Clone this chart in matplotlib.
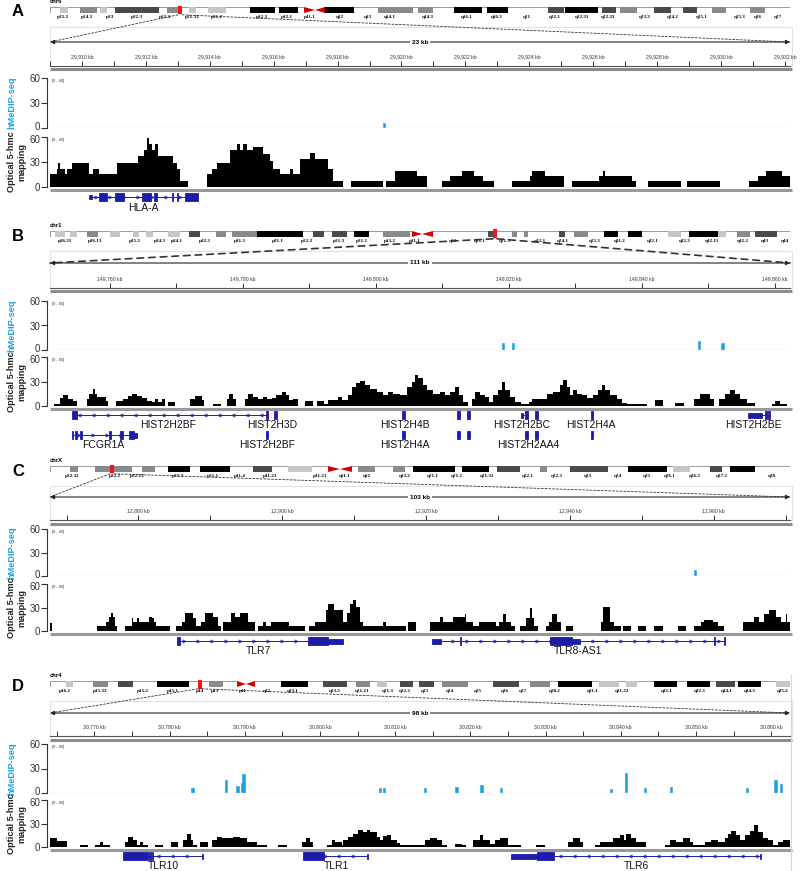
import numpy as np
import matplotlib
matplotlib.use("Agg")
import matplotlib.pyplot as plt
from matplotlib.patches import Rectangle, Polygon, ConnectionPatch
from matplotlib.transforms import ScaledTranslation

plt.rcParams['font.family'] = ['Liberation Sans', 'DejaVu Sans']

# ---------------- data ----------------
# ideogram bands: (start, end, stain), positions along the ideogram (0-740)
CHR6_BANDS = [(10, 18, 'gpos25'), (30, 47, 'gpos50'), (50, 57, 'gpos25'), (65, 109, 'gpos75'),
              (117, 128, 'gpos50'), (139, 146, 'gpos25'), (158, 176, 'gpos25'), (200, 225, 'gpos100'),
              (229, 248, 'gpos100'), (275, 304, 'gpos100'), (328, 363, 'gpos50'), (368, 383, 'gpos50'),
              (404, 432, 'gpos100'), (437, 458, 'gpos100'), (498, 514, 'gpos75'), (515, 548, 'gpos100'),
              (552, 566, 'gpos75'), (570, 587, 'gpos50'), (604, 621, 'gpos75'), (633, 647, 'gpos75'),
              (662, 676, 'gpos50'), (700, 715, 'gpos50')]
CHR1_BANDS = [(5, 15, 'gpos25'), (20, 27, 'gpos25'), (37, 48, 'gpos50'), (60, 70, 'gpos25'),
              (83, 89, 'gpos25'), (96, 103, 'gpos25'), (118, 130, 'gpos25'), (139, 150, 'gpos75'),
              (166, 176, 'gpos50'), (182, 207, 'gpos50'), (207, 253, 'gpos100'), (263, 274, 'gpos75'),
              (282, 297, 'gpos75'), (304, 319, 'gpos100'), (333, 360, 'gpos50'), (438, 447, 'gpos75'),
              (462, 467, 'gpos50'), (474, 478, 'gpos50'), (509, 515, 'gpos75'), (524, 538, 'gpos50'),
              (554, 568, 'gpos100'), (578, 592, 'gpos100'), (618, 631, 'gpos25'), (639, 668, 'gpos100'),
              (668, 676, 'gpos25'), (687, 700, 'gpos50'), (705, 727, 'gpos75')]
CHRX_BANDS = [(20, 28, 'gpos50'), (45, 82, 'gpos50'), (92, 105, 'gpos50'), (118, 140, 'gpos100'),
              (150, 180, 'gpos100'), (203, 222, 'gpos75'), (238, 262, 'gpos25'), (308, 325, 'gpos50'),
              (343, 355, 'gpos50'), (363, 405, 'gpos100'), (412, 439, 'gpos100'), (447, 470, 'gpos75'),
              (490, 497, 'gpos50'), (520, 558, 'gpos75'), (578, 617, 'gpos100'), (623, 640, 'gpos25'),
              (660, 672, 'gpos75'), (680, 705, 'gpos100')]
CHR4_BANDS = [(16, 23, 'gpos25'), (43, 58, 'gpos50'), (68, 83, 'gpos75'), (107, 139, 'gpos100'),
              (159, 173, 'gpos50'), (231, 258, 'gpos100'), (273, 297, 'gpos75'), (306, 320, 'gpos50'),
              (327, 337, 'gpos25'), (350, 363, 'gpos75'), (369, 384, 'gpos75'), (392, 418, 'gpos50'),
              (443, 469, 'gpos75'), (480, 500, 'gpos50'), (508, 542, 'gpos100'), (549, 569, 'gpos25'),
              (576, 587, 'gpos25'), (604, 627, 'gpos100'), (637, 660, 'gpos100'), (666, 685, 'gpos75'),
              (688, 711, 'gpos100'), (726, 740, 'gpos25')]
# centromere (p edge, centre, q edge) and red locus marker
CHR6_ACEN, CHR1_ACEN, CHRX_ACEN, CHR4_ACEN = (254, 265, 275), (362, 372, 383), (278, 290, 302), (187, 196, 205)
MARKERS = [130, 445, 62, 150]

CHR6_LABELS = [('p25.3', 13), ('p24.3', 37), ('p23', 60), ('p22.3', 87), ('p22.2', 115), ('p21.33', 142),
               ('p21.2', 167), ('p12.3', 212), ('p12.1', 237), ('p11.1', 260), ('q12', 290), ('q13', 318),
               ('q14.1', 340), ('q14.3', 378), ('q16.1', 417), ('q16.3', 447), ('q21', 477), ('q22.1', 505),
               ('q22.31', 532), ('q22.33', 558), ('q23.3', 595), ('q24.2', 623), ('q25.1', 652),
               ('q25.3', 690), ('q26', 708), ('q27', 728)]
CHR1_LABELS = [('p36.31', 15), ('p36.13', 45), ('p35.3', 85), ('p34.3', 110), ('p34.1', 127), ('p32.3', 155),
               ('p31.3', 190), ('p31.1', 228), ('p22.3', 257), ('p21.3', 289), ('p21.1', 312), ('p13.2', 340),
               ('p11.1', 365), ('q12', 403), ('q21.1', 430), ('q21.3', 455), ('q23.3', 490), ('q24.1', 513),
               ('q25.3', 545), ('q31.2', 570), ('q32.1', 603), ('q32.3', 635), ('q42.11', 662),
               ('q42.2', 693), ('q43', 715), ('q44', 735)]
CHRX_LABELS = [('p22.32', 22), ('p22.2', 65), ('p22.13', 87), ('p21.3', 128), ('p21.1', 163), ('p11.4', 190),
               ('p11.23', 220), ('p11.21', 270), ('q11.1', 295), ('q12', 317), ('q13.2', 355), ('q21.1', 383),
               ('q21.2', 407), ('q21.32', 437), ('q22.1', 478), ('q22.3', 507), ('q23', 538), ('q24', 568),
               ('q25', 597), ('q26.1', 620), ('q26.3', 645), ('q27.2', 672), ('q28', 722)]
CHR4_LABELS = [('p16.2', 15), ('p15.33', 50), ('p15.2', 93), ('p15.1', 123), ('p14', 150), ('p13', 165),
               ('p11', 193), ('q12', 217), ('q13.1', 243), ('q13.3', 285), ('q21.21', 312), ('q21.3', 338),
               ('q22.2', 355), ('q23', 375), ('q24', 400), ('q25', 428), ('q26', 455), ('q27', 473),
               ('q28.2', 505), ('q31.1', 543), ('q31.22', 572), ('q32.1', 617), ('q32.3', 650),
               ('q34.1', 677), ('q34.3', 700), ('q35.2', 733)]

CHROMS = ['chr6', 'chr1', 'chrX', 'chr4']
START_KB = [29909.0, 149751.0, 12867.7, 30764.1]     # left edge of each window
SPAN_KB = [23.16, 111.3, 102.9, 98.4]
SPAN_TXT = ['23 kb', '111 kb', '103 kb', '98 kb']
RULER_STEP = [(2, 1), (20, 10), (20, 10), (10, 5)]   # labelled, minor tick step (kb)

# optical 5-hmC coverage: (segment end, kb from window start; value)
OPT_A = [(0.23, 15), (0.26, 22), (0.31, 29), (0.47, 22), (0.52, 15), (0.68, 22), (1.23, 29), (1.34, 15),
         (1.52, 22), (2.09, 15), (2.76, 29), (2.94, 37), (3.03, 44), (3.11, 59), (3.18, 51), (3.29, 44),
         (3.39, 51), (3.84, 37), (3.96, 29), (4.07, 22), (4.33, 7), (4.92, 0), (5.06, 15), (5.24, 22),
         (5.63, 29), (5.84, 44), (5.95, 51), (6.05, 44), (6.16, 51), (6.36, 44), (6.68, 48), (6.89, 40),
         (6.99, 31), (7.20, 22), (7.51, 15), (7.62, 22), (7.82, 15), (8.14, 34), (8.29, 41), (8.71, 34),
         (8.87, 22), (9.18, 7), (9.41, 0), (10.43, 7), (10.51, 0), (10.80, 7), (11.48, 19), (11.81, 13),
         (12.26, 0), (12.52, 7), (12.88, 13), (13.27, 19), (13.56, 13), (13.91, 7), (14.47, 0), (15.02, 7),
         (15.10, 13), (15.49, 19), (16.09, 13), (16.35, 0), (17.18, 7), (17.32, 13), (17.36, 19),
         (18.21, 13), (18.33, 7), (18.73, 0), (19.75, 7), (19.95, 0), (20.97, 7), (21.88, 0), (22.17, 7),
         (22.40, 13), (22.90, 19), (23.16, 13)]
OPT_B = [(0.60, 0), (1.50, 3), (2.00, 10), (2.76, 13), (3.41, 9), (4.11, 6), (5.51, 0), (5.91, 9), (6.42, 15),
         (6.77, 21), (7.12, 15), (8.42, 11), (8.77, 6), (9.92, 0), (11.03, 6), (11.78, 9), (12.28, 12),
         (13.03, 15), (13.78, 12), (14.54, 10), (15.29, 6), (15.79, 5), (16.29, 9), (16.79, 5), (17.29, 9),
         (17.79, 0), (18.80, 5), (21.05, 0), (21.80, 8), (22.81, 12), (23.16, 7), (24.56, 0), (25.66, 3),
         (26.57, 0), (26.97, 9), (27.47, 15), (27.97, 9), (29.32, 0), (29.82, 9), (30.58, 15), (31.33, 11),
         (32.08, 8), (32.58, 11), (33.33, 8), (33.98, 10), (34.84, 13), (35.49, 17), (35.99, 13),
         (36.59, 7), (37.34, 9), (38.35, 0), (39.50, 6), (40.10, 0), (41.20, 6), (41.85, 3), (43.36, 7),
         (43.86, 11), (44.86, 7), (45.36, 13), (46.02, 23), (46.62, 28), (47.37, 31), (48.12, 26),
         (49.12, 21), (50.13, 17), (50.88, 13), (51.63, 17), (52.63, 15), (53.63, 13), (54.39, 23),
         (54.89, 30), (55.39, 38), (56.04, 34), (56.74, 26), (57.64, 19), (58.65, 15), (59.40, 17),
         (60.15, 13), (60.90, 17), (61.55, 23), (62.16, 13), (62.91, 5), (63.41, 0), (63.91, 9),
         (64.66, 17), (65.41, 13), (66.07, 11), (66.67, 5), (67.42, 13), (67.92, 19), (68.42, 30),
         (69.17, 19), (69.92, 11), (70.78, 5), (72.08, 3), (72.43, 5), (74.69, 9), (75.69, 15),
         (76.69, 17), (77.09, 26), (77.69, 32), (78.20, 23), (78.60, 13), (79.20, 19), (79.95, 15),
         (80.70, 13), (81.70, 10), (82.46, 13), (82.96, 19), (83.46, 26), (84.21, 19), (85.21, 13),
         (85.96, 8), (86.72, 4), (89.72, 3), (90.98, 0), (92.23, 7), (93.98, 0), (95.34, 4), (96.84, 0),
         (97.74, 8), (99.25, 15), (99.85, 8), (100.65, 0), (101.50, 8), (102.26, 15), (103.01, 19),
         (103.76, 15), (104.76, 9), (106.02, 4), (108.52, 0), (109.02, 3), (109.77, 6), (110.78, 3),
         (111.30, 0)]
OPT_C = [(0.23, 10), (6.48, 0), (7.78, 6), (8.24, 12), (8.43, 18), (8.70, 23), (9.03, 18), (9.35, 6),
         (10.46, 0), (11.34, 6), (11.57, 16), (12.04, 12), (12.41, 16), (13.80, 12), (14.12, 18),
         (14.44, 16), (14.72, 12), (16.67, 6), (17.59, 0), (18.29, 6), (18.75, 12), (19.91, 23),
         (20.37, 16), (21.06, 6), (21.53, 12), (22.69, 23), (23.38, 18), (23.84, 6), (24.07, 0),
         (25.23, 12), (25.69, 23), (26.39, 18), (27.55, 23), (28.47, 12), (28.94, 0), (29.63, 6),
         (30.09, 12), (30.79, 6), (33.24, 12), (35.42, 6), (36.02, 0), (36.81, 6), (38.33, 12),
         (38.66, 27), (39.49, 35), (40.74, 27), (41.30, 12), (41.67, 23), (42.13, 35), (42.59, 40),
         (43.06, 31), (43.52, 12), (46.30, 6), (46.76, 12), (49.54, 6), (49.77, 0), (50.93, 12),
         (52.78, 0), (54.17, 12), (54.63, 18), (56.02, 12), (57.64, 18), (57.87, 22), (58.80, 12),
         (59.72, 6), (62.04, 12), (62.50, 6), (62.96, 12), (63.43, 22), (64.12, 12), (64.72, 6),
         (65.37, 0), (66.20, 6), (66.81, 16), (67.04, 30), (67.36, 16), (67.82, 6), (68.98, 0),
         (69.44, 6), (69.81, 12), (70.46, 22), (71.06, 12), (71.76, 0), (72.78, 6), (76.62, 0),
         (76.94, 12), (77.87, 31), (78.47, 12), (79.40, 6), (79.63, 0), (80.79, 6), (81.71, 0),
         (82.87, 6), (84.03, 0), (85.19, 6), (87.27, 0), (88.43, 6), (89.58, 0), (90.51, 6), (90.97, 12),
         (92.13, 14), (92.82, 12), (93.75, 6), (96.30, 0), (97.92, 12), (98.61, 18), (99.31, 12),
         (100.00, 22), (100.93, 27), (101.62, 18), (102.31, 12), (102.55, 22), (102.90, 12)]
OPT_D = [(0.89, 11), (2.22, 8), (3.99, 0), (5.10, 3), (5.98, 0), (6.65, 3), (7.00, 6), (7.98, 3), (9.97, 0),
         (10.41, 6), (11.08, 13), (11.52, 9), (11.96, 3), (12.32, 6), (13.07, 2), (13.96, 0), (15.06, 3),
         (16.04, 0), (17.06, 6), (17.72, 0), (18.17, 9), (18.70, 16), (19.05, 9), (19.49, 3), (19.94, 0),
         (21.05, 6), (21.49, 0), (22.15, 9), (22.82, 13), (24.37, 12), (25.25, 13), (26.14, 11),
         (27.47, 6), (28.80, 3), (30.35, 0), (31.55, 3), (33.45, 0), (34.03, 6), (34.56, 11), (35.00, 6),
         (36.77, 0), (37.44, 3), (37.88, 9), (38.77, 6), (38.99, 3), (39.65, 9), (40.32, 13), (40.98, 17),
         (41.65, 22), (42.09, 19), (42.53, 22), (43.42, 19), (43.86, 13), (44.31, 9), (44.75, 14),
         (45.41, 15), (46.08, 9), (46.52, 5), (48.52, 2), (49.85, 3), (50.51, 9), (51.40, 12), (52.06, 9),
         (52.73, 3), (53.83, 0), (54.72, 4), (55.38, 3), (56.27, 0), (57.16, 9), (57.60, 15), (58.49, 9),
         (59.15, 4), (59.81, 9), (60.92, 12), (61.59, 3), (62.69, 2), (64.69, 0), (65.80, 2), (68.90, 0),
         (69.56, 6), (70.45, 12), (70.89, 6), (72.44, 0), (73.11, 3), (74.88, 6), (75.77, 11), (76.30, 15),
         (76.65, 9), (77.32, 16), (77.98, 11), (79.31, 6), (81.75, 0), (82.41, 3), (83.30, 9), (84.18, 6),
         (85.07, 11), (85.51, 6), (87.06, 3), (87.95, 6), (88.83, 9), (89.72, 6), (90.16, 12), (90.61, 16),
         (91.27, 21), (91.71, 15), (92.38, 9), (93.04, 15), (93.58, 21), (94.15, 28), (94.82, 19),
         (95.48, 12), (96.15, 9), (96.81, 3), (97.47, 6), (98.40, 9)]

# hMeDIP-seq peaks: (kb from window start, height)
HME_A = [(10.46, 6)]
HME_B = [(68.17, 8), (69.67, 8), (97.59, 11), (101.15, 8)]
HME_C = [(89.72, 8)]
HME_D = [(18.96, 6), (23.39, 16), (24.94, 8), (25.61, 12), (25.74, 23), (43.86, 6), (44.40, 6), (49.84, 6),
         (54.05, 7), (57.38, 10), (59.95, 6), (74.57, 5), (76.56, 24), (79.09, 6), (82.54, 7), (92.73, 6),
         (96.46, 16), (97.25, 11)]

# genes: (label, start, end, strand, exons, label position, row)
GENES_A = [('HLA-A', 1.22, 4.63, '+', [(1.22, 1.31, 'utr'), (1.53, 1.78, 'cds'), (2.03, 2.32, 'cds'),
            (2.88, 3.16, 'cds'), (3.26, 3.35, 'cds'), (3.82, 3.85, 'cds'), (3.97, 4.01, 'cds'),
            (4.23, 4.63, 'cds')], 2.91, 0)]
GENES_B = [('HIST2H2BF', 3.31, 32.78, '-', [(3.31, 4.06, 'cds'), (32.48, 32.78, 'cds')], 17.74, 0),
           ('HIST2H3D', 33.7, 34.1, None, [(33.7, 34.1, 'cds')], 33.38, 0),
           ('HIST2H4B', 53.0, 53.4, None, [(53.0, 53.4, 'cds')], 53.38, 0),
           ('', 61.2, 61.6, None, [(61.2, 61.6, 'cds')], 0, 0),
           ('', 62.7, 63.1, None, [(62.7, 63.1, 'cds')], 0, 0),
           ('HIST2H2BC', 70.8, 71.9, None, [(70.8, 71.1, 'utr'), (71.5, 71.9, 'cds')], 70.98, 0),
           ('', 73.0, 73.4, None, [(73.0, 73.4, 'cds')], 0, 0),
           ('HIST2H4A', 81.3, 81.7, None, [(81.3, 81.7, 'cds')], 81.35, 0),
           ('HIST2H2BE', 104.96, 108.3, None, [(104.96, 107.07, 'utr'), (107.5, 107.8, 'cds'),
            (108.0, 108.3, 'cds')], 105.86, 0),
           ('FCGR1A', 3.31, 13.08, '+', [(3.31, 3.46, 'cds'), (3.76, 4.06, 'cds'), (4.51, 4.81, 'cds'),
            (8.87, 9.17, 'cds'), (10.53, 10.98, 'cds'), (11.88, 12.6, 'cds'), (12.6, 13.08, 'utr')], 7.97, 1),
           ('HIST2H2BF', 32.48, 32.78, None, [(32.48, 32.78, 'cds')], 32.63, 1),
           ('HIST2H4A', 53.0, 53.4, None, [(53.0, 53.4, 'cds')], 53.38, 1),
           ('', 61.2, 61.6, None, [(61.2, 61.6, 'cds')], 0, 1),
           ('', 62.7, 63.1, None, [(62.7, 63.1, 'cds')], 0, 1),
           ('HIST2H2AA4', 71.5, 71.9, None, [(71.5, 71.9, 'cds')], 71.88, 1),
           ('', 73.0, 73.4, None, [(73.0, 73.4, 'cds')], 0, 1),
           ('', 81.3, 81.7, None, [(81.3, 81.7, 'cds')], 0, 1)]
GENES_C = [('TLR7', 17.66, 40.75, '+', [(17.66, 18.1, 'cds'), (35.88, 38.66, 'cds'), (38.66, 40.75, 'utr')],
            28.93, 0),
           ('TLR8-AS1', 53.13, 93.88, '+', [(53.13, 54.38, 'utr'), (57.0, 57.2, 'cds'), (69.54, 72.6, 'cds'),
            (72.6, 73.71, 'utr'), (92.3, 92.5, 'cds'), (93.7, 93.88, 'cds')], 73.43, 0)]
GENES_D = [('TLR10', 9.70, 20.34, '-', [(9.70, 13.03, 'cds'), (13.16, 13.40, 'cds'), (13.50, 13.69, 'cds'),
            (20.2, 20.34, 'utr')], 15.02, 0),
           ('TLR1', 33.63, 42.27, '-', [(33.63, 36.42, 'cds'), (42.1, 42.27, 'utr')], 38.15, 0),
           ('TLR6', 61.28, 94.51, '-', [(61.28, 64.74, 'utr'), (64.74, 67.0, 'cds'), (94.4, 94.51, 'utr')],
            78.03, 0)]

BANDS = [CHR6_BANDS, CHR1_BANDS, CHRX_BANDS, CHR4_BANDS]
ACEN = [CHR6_ACEN, CHR1_ACEN, CHRX_ACEN, CHR4_ACEN]
BAND_LABELS = [CHR6_LABELS, CHR1_LABELS, CHRX_LABELS, CHR4_LABELS]
OPT = [OPT_A, OPT_B, OPT_C, OPT_D]
HME = [HME_A, HME_B, HME_C, HME_D]
GENES = [GENES_A, GENES_B, GENES_C, GENES_D]

# ---------------- layout (pixels, top-left origin) ----------------
# letter, ideogram top, scale y, ruler top, ruler base, hMeDIP, optical, gene area, gene rows
LAYOUT = [('A', 7, 42, 59, 66, (78, 128), (137, 187), (191, 213), [(6, 17)]),
          ('B', 231, 263, 281, 288, (301, 350), (357, 406), (410, 451), [(5, 15), (25, 35)]),
          ('C', 466, 497, 513, 520, (529, 576), (584, 631), (636, 657), [(5, 15)]),
          ('D', 681, 713, 729, 736, (744, 793), (800, 847), (851, 871), [(5, 15)])]
DASH = [(0.6, (0, (2.5, 2))), (1.2, (0, (4, 3))), (0.6, (0, (2.5, 2))), (0.6, (0, (2.5, 2)))]

STAIN = {'gpos25': '#c6c6c6', 'gpos50': '#8a8a8a', 'gpos75': '#4a4a4a', 'gpos100': '#000000'}
HME_COL = '#1ea0de'
GENE_COL = '#1c1caa'
W, H = 800, 871
X0, X1 = 50, 790

fig = plt.figure(figsize=(W / 100, H / 100), dpi=100)
bg = fig.add_axes([0, 0, 1, 1])
bg.set_xlim(0, W); bg.set_ylim(H, 0); bg.axis('off')


def px_axes(x0, y0, x1, y1):
    ax = fig.add_axes([x0 / W, 1 - y1 / H, (x1 - x0) / W, (y1 - y0) / H])
    ax.set_facecolor('none')
    return ax


def draw_ideogram(ax, bands, acen, labels, marker, chrom):
    ax.set_xlim(0, 740); ax.set_ylim(0, 1); ax.axis('off')
    ax.add_patch(Rectangle((0, 0), 740, 1, fc='white', ec='#8a8a8a', lw=0.6))
    for s, e, st in bands:
        ax.add_patch(Rectangle((s, 0), e - s, 1, fc=STAIN[st], ec='none'))
    a0, a1, a2 = acen
    ax.add_patch(Rectangle((a0, -0.2), a2 - a0, 1.4, fc='white', ec='none', clip_on=False))
    ax.add_patch(Polygon([(a0, 0), (a0, 1), (a1, 0.5)], fc='#d00000', ec='none'))
    ax.add_patch(Polygon([(a2, 0), (a2, 1), (a1, 0.5)], fc='#d00000', ec='none'))
    ax.add_patch(Rectangle((marker - 2, -0.25), 4, 1.5, fc='#ff1010', ec='none', clip_on=False))
    for name, u in labels:
        ax.text(u, -0.3, name, ha='center', va='top', fontsize=3.7, family='Liberation Serif',
                weight='bold', clip_on=False)
    ax.text(0, 1.5, chrom, ha='left', va='bottom', fontsize=4.2, weight='bold')


def draw_gene(ax, g, y, ly, ppk):
    name, s, e, strand, exons, lx, _ = g
    ax.hlines(y, s, e, color=GENE_COL, lw=0.7)
    if strand:
        step = 14 / ppk
        xs = np.arange(s + step / 2, e - step / 3, step)
        if len(xs):
            ax.plot(xs, np.full(len(xs), y), ls='none', marker='>' if strand == '+' else '<',
                    ms=2.3, mew=0.5, mfc='none', mec=GENE_COL)
    for es, ee, kind in exons:
        h = 8 if kind == 'cds' else 5
        ax.add_patch(Rectangle((es, y - h / 2), ee - es, h, fc=GENE_COL, ec=GENE_COL, lw=0.6))
    if name:
        ax.text(lx, ly, name, ha='center', va='center', fontsize=7.5, color='#111')


for i, (letter, it, sy, rt, rb, hme_y, opt_y, gene_y, rows) in enumerate(LAYOUT):
    start, span = START_KB[i], SPAN_KB[i]
    ppk = (X1 - X0) / span

    bg.text(18, it + 5, letter, fontsize=12, weight='bold', ha='center', va='center')

    # ideogram
    ideo = px_axes(X0, it, X1, it + 6)
    draw_ideogram(ideo, BANDS[i], ACEN[i], BAND_LABELS[i], MARKERS[i], CHROMS[i])

    # scale arrow
    sc = px_axes(X0, sy - 4, X1, sy + 4)
    sc.set_xlim(0, span); sc.set_ylim(-1, 1); sc.axis('off')
    sc.annotate('', xy=(0, 0), xytext=(span, 0),
                arrowprops=dict(arrowstyle='<|-|>', lw=0.8, color='#222', mutation_scale=6,
                                shrinkA=0, shrinkB=0))
    sc.text(span / 2, 0, SPAN_TXT[i], ha='center', va='center', fontsize=4.6, weight='bold',
            bbox=dict(fc='white', ec='none', pad=1.5))
    lw, ls = DASH[i]
    for dx, xb in ((-2, 0), (2, span)):
        fig.add_artist(ConnectionPatch(xyA=(MARKERS[i] + dx, -0.3), coordsA=ideo.transData,
                                       xyB=(xb, 0), coordsB=sc.transData, lw=lw, ls=ls, color='#333'))

    bg.add_patch(Rectangle((X0, it + 20), X1 + 2 - X0, rb - it - 20, fc='none', ec='#e2e2e2', lw=0.8))

    # ruler
    ru = px_axes(X0, rt, X1, rb)
    ru.set_xlim(0, span); ru.set_ylim(0, 1)
    for sp in ('top', 'left', 'right'):
        ru.spines[sp].set_visible(False)
    ru.spines['bottom'].set_color('#555'); ru.spines['bottom'].set_linewidth(0.8)
    ru.set_xticks([]); ru.set_yticks([])
    major, minor = RULER_STEP[i]
    for t in np.arange(np.ceil(start / minor) * minor, start + span, minor):
        ru.vlines(t - start, 0, 0.65, color='#333', lw=0.7)
    for t in np.arange(np.ceil(start / major) * major, start + span + 0.05, major):
        ru.text(t - start, 1.0, f'{t:,.0f} kb', ha='center', va='bottom', fontsize=3.7, color='#333',
                clip_on=False)
    bg.hlines(rb + 3.5, X0, X1 + 2, color='#8c8c8c', lw=2.2)

    # data tracks
    for (y0, y1), kind in ((hme_y, 'hme'), (opt_y, 'opt')):
        ax = px_axes(X0, y0, X1, y1)
        ax.set_xlim(0, span); ax.set_ylim(0, 60)
        for sp in ('top', 'right', 'bottom'):
            ax.spines[sp].set_visible(False)
        ax.spines['left'].set_position(('outward', 2))
        ax.spines['left'].set_linewidth(0.8); ax.spines['left'].set_color('#333')
        ax.set_xticks([]); ax.set_yticks([0, 30, 60])
        ax.tick_params(axis='y', length=4, width=0.8, labelsize=7, pad=1, colors='#333')
        # nudge the 0 / 60 labels apart where the two tracks meet
        lbls = ax.get_yticklabels()
        if kind == 'hme':
            lbls[0].set_transform(lbls[0].get_transform() + ScaledTranslation(0, 1.8 / 100, fig.dpi_scale_trans))
        else:
            lbls[2].set_transform(lbls[2].get_transform() + ScaledTranslation(0, -1.8 / 100, fig.dpi_scale_trans))
        ax.text(0.003, 0.98, '[0 - 60]', transform=ax.transAxes, fontsize=2.8, va='top', color='#333')
        if kind == 'hme':
            ax.axhline(0, color='#d6d6d6', lw=0.9)
            pos = [p for p, _ in HME[i]]
            hts = [h for _, h in HME[i]]
            ax.bar(pos, hts, width=2.2 / ppk, color=HME_COL, ec=HME_COL, lw=0.4, align='center')
        else:
            ends = [e for e, _ in OPT[i]]
            vals = [v for _, v in OPT[i]]
            ax.stairs(vals, [0] + ends, fill=True, color='black', lw=0)
    bg.hlines(opt_y[1] + 3, X0, X1 + 2, color='#999', lw=2.2)

    bg.text(12, sum(hme_y) / 2, 'hMeDIP-seq', rotation=90, color=HME_COL, weight='bold', fontsize=6.6,
            ha='center', va='center')
    bg.text(17, sum(opt_y) / 2, 'Optical 5-hmc\nmapping', rotation=90, color='#222', weight='bold',
            fontsize=6.6, ha='center', va='center', linespacing=1.15)

    # genes
    ga = px_axes(X0, gene_y[0], X1, gene_y[1])
    ga.set_xlim(0, span); ga.set_ylim(gene_y[1] - gene_y[0], 0); ga.axis('off')
    for g in GENES[i]:
        y, ly = rows[g[6]]
        draw_gene(ga, g, y, ly, ppk)

bg.vlines(791, 674, 871, color='#d8d8d8', lw=0.8)

fig.savefig('out.png', dpi=100)
